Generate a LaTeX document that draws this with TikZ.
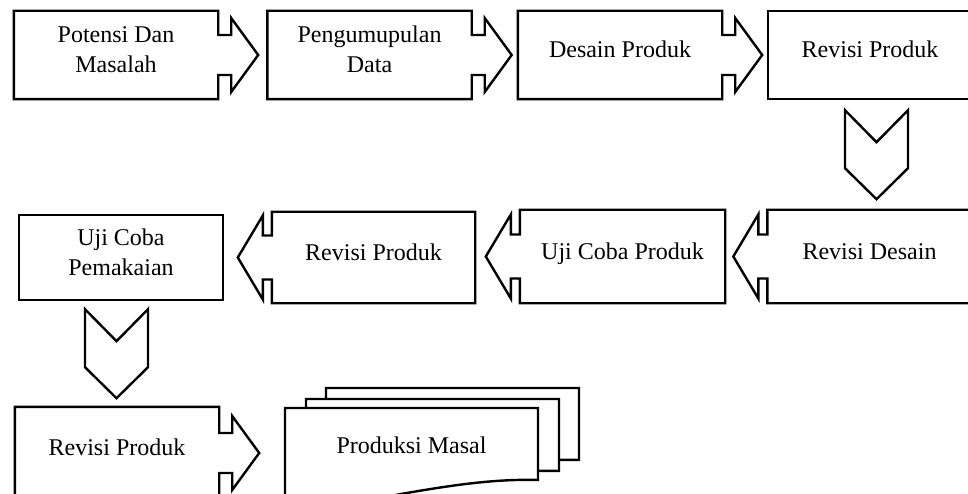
\documentclass[tikz,border=0pt]{standalone}
\usepackage{fontspec}
\setmainfont{Liberation Serif}
\usepackage{tikz}
\usetikzlibrary{calc}
\tikzstyle{stage} = [rectangle, draw=none, minimum width=204pt, minimum height=88pt,
    inner sep=0pt, align=center, text height=16pt, text depth=11pt,
    font=\fontsize{24}{30}\selectfont]
\tikzstyle{twoline} = [text height=46pt]
\tikzstyle{outline} = [draw, line width=2.4pt, line join=miter]
% box with arrow tab on the right / left side
\newcommand{\tabright}[1]{%
  \draw[outline] (#1.north west) -- (#1.north east)
    -- ($(#1.east)+(0,-20)$) -- ($(#1.east)+(13,-20)$) -- ($(#1.east)+(13,-37)$)
    -- ($(#1.east)+(40,0)$) -- ($(#1.east)+(13,37)$) -- ($(#1.east)+(13,20)$)
    -- ($(#1.east)+(0,20)$) -- (#1.south east) -- (#1.south west) -- cycle;}
\newcommand{\tableft}[1]{%
  \draw[outline] (#1.north east) -- (#1.north west)
    -- ($(#1.west)+(0,-22)$) -- ($(#1.west)+(-9,-22)$) -- ($(#1.west)+(-9,-42)$)
    -- ($(#1.west)+(-34,0)$) -- ($(#1.west)+(-9,42)$) -- ($(#1.west)+(-9,22)$)
    -- ($(#1.west)+(0,22)$) -- (#1.south west) -- (#1.south east) -- cycle;}
\newcommand{\chevdown}[1]{%
  \draw[outline] #1 ++(-31.5,0) -- ++(31.5,32) -- ++(31.5,-32) -- ++(0,58)
    -- ++(-31.5,31) -- ++(-31.5,-31) -- cycle;}

\begin{document}
\begin{tikzpicture}[x=1pt,y=-1pt]
    \useasboundingbox (0,0) rectangle (968,494);
    \clip (0,0) rectangle (968,494);
    % Place nodes
    \node [stage, twoline] (potensi) at (116,55) {Potensi Dan\\Masalah};
    \node [stage, twoline] (data) at (369.5,55) {Pengumupulan\\Data};
    \node [stage] (desain) at (620,55) {Desain Produk};
    \node [stage] (revisi) at (870,55) {Revisi Produk};
    \node [stage, minimum height=93pt] (revdesain) at (869.5,256.5) {Revisi Desain};
    \node [stage, minimum height=93pt, minimum width=205pt] (ujiproduk) at (622.5,256.5) {Uji Coba Produk};
    \node [stage, minimum height=91pt, minimum width=203pt] (revisib) at (373.5,257.5) {Revisi Produk};
    \node [stage, twoline, minimum height=85pt] (ujipakai) at (121,257.5) {Uji Coba\\Pemakaian};
    \node [stage, minimum height=92pt] (revisic) at (117,453) {Revisi Produk};
    % Draw boxes
    \tabright{potensi}
    \tabright{data}
    \tabright{desain}
    \draw[outline] (revisi.south west) rectangle (revisi.north east);
    \chevdown{($(revisi.south)+(6.5,11)$)}
    \tableft{revdesain}
    \tableft{ujiproduk}
    \tableft{revisib}
    \draw[outline] (ujipakai.south west) rectangle (ujipakai.north east);
    \chevdown{($(ujipakai.south)+(-4.5,9)$)}
    \tabright{revisic}
    % stacked documents
    \foreach \dx/\dy in {41/-20, 21/-9, 0/0}
        \draw[outline, fill=white, shift={(\dx,\dy)}] (285,408) -- (538,408) -- (538,480)
            .. controls (470,478) and (400,495) .. (285,515) -- cycle;
    \node [stage, minimum width=253pt, minimum height=0pt] (masal) at (411.5,450.5) {Produksi Masal};
\end{tikzpicture}
\end{document}
